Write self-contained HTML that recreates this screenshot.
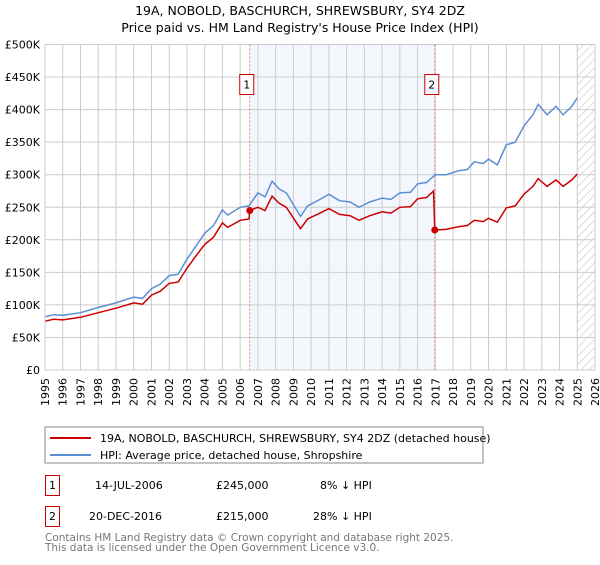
<!DOCTYPE html>
<html><head><meta charset="utf-8"><style>
body{margin:0;background:#fff;font-family:"Liberation Sans","DejaVu Sans",sans-serif}
svg text{font-family:"DejaVu Sans","Liberation Sans",sans-serif}
</style></head><body>
<svg id="c" width="600" height="560" xmlns="http://www.w3.org/2000/svg">
<defs><pattern id="hatch" width="6" height="6" patternUnits="userSpaceOnUse" patternTransform="rotate(45)"><line x1="0" y1="0" x2="0" y2="6" stroke="#bbb" stroke-width="1"/></pattern></defs>
<text x="300" y="15" text-anchor="middle" font-size="12.5">19A, NOBOLD, BASCHURCH, SHREWSBURY, SY4 2DZ</text>
<text x="300" y="32" text-anchor="middle" font-size="12.5">Price paid vs. HM Land Registry's House Price Index (HPI)</text>
<g id="plot"></g>
<rect x="45" y="427" width="438" height="36" fill="#fff" stroke="#888"/>
<line x1="50" y1="438" x2="91" y2="438" stroke="#cc0000" stroke-width="2"/>
<text x="100" y="442" font-size="11">19A, NOBOLD, BASCHURCH, SHREWSBURY, SY4 2DZ (detached house)</text>
<line x1="50" y1="455" x2="91" y2="455" stroke="#5b8fd4" stroke-width="2"/>
<text x="100" y="459" font-size="11">HPI: Average price, detached house, Shropshire</text>
<g>
<rect x="45.5" y="475.5" width="14" height="20" fill="none" stroke="#cc0000"/>
<text x="52.5" y="489" text-anchor="middle" font-size="11">1</text>
<text x="95" y="489" font-size="11">14-JUL-2006</text>
<text x="216" y="489" font-size="11">£245,000</text>
<text x="320" y="489" font-size="11">8% ↓ HPI</text></g>
<g>
<rect x="45.5" y="506.5" width="14" height="20" fill="none" stroke="#cc0000"/>
<text x="52.5" y="520" text-anchor="middle" font-size="11">2</text>
<text x="89" y="520" font-size="11">20-DEC-2016</text>
<text x="216" y="520" font-size="11">£215,000</text>
<text x="313" y="520" font-size="11">28% ↓ HPI</text></g>
<text x="45" y="541" font-size="10.5" fill="#777">Contains HM Land Registry data © Crown copyright and database right 2025.</text>
<text x="45" y="551" font-size="10.5" fill="#777">This data is licensed under the Open Government Licence v3.0.</text>
</svg>
<script>
const hpiDates=[1995,1995.5,1996,1997,1998,1999,2000,2000.5,2001,2001.5,2002,2002.5,2003,2003.5,2004,2004.5,2005,2005.3,2006,2006.5,2007,2007.4,2007.8,2008.2,2008.6,2009.4,2009.8,2010.5,2011,2011.6,2012.2,2012.7,2013.3,2014,2014.5,2015,2015.6,2016,2016.5,2017,2017.6,2018.3,2018.8,2019.2,2019.7,2020,2020.5,2021,2021.5,2022,2022.5,2022.8,2023.3,2023.8,2024.2,2024.7,2025];
const hpiValues=[82,85,84,88,96,103,112,110,125,132,145,147,170,190,210,222,246,238,250,252,272,266,290,278,272,236,252,262,270,260,258,250,258,264,262,272,273,286,288,300,300,306,308,320,317,324,315,346,350,375,392,408,392,405,392,405,418];
const priceDates=[1995,1995.5,1996,1997,1998,1999,2000,2000.5,2001,2001.5,2002,2002.5,2003,2003.5,2004,2004.5,2005,2005.3,2006,2006.5,2006.54,2007,2007.4,2007.8,2008.2,2008.6,2009.4,2009.8,2010.5,2011,2011.6,2012.2,2012.7,2013.3,2014,2014.5,2015,2015.6,2016,2016.5,2016.9,2016.97,2017.6,2018.3,2018.8,2019.2,2019.7,2020,2020.5,2021,2021.5,2022,2022.5,2022.8,2023.3,2023.8,2024.2,2024.7,2025];
const priceValues=[75,78,77,81,88,95,103,101,115,121,133,135,156,175,193,204,226,219,230,232,245,250,245,267,256,250,217,232,241,248,239,237,230,237,243,241,250,251,263,265,275,215,216,220,222,230,228,233,227,249,252,270,282,294,282,292,282,292,301];
const saleDates=[2006.54,2016.97];
const saleValues=[245,215];
const saleLabels=["1","2"];
const yTicks=[0,50,100,150,200,250,300,350,400,450,500];
const yTickLabels=["£0","£50K","£100K","£150K","£200K","£250K","£300K","£350K","£400K","£450K","£500K"];
const xTicks=[];for(let y=1995;y<=2026;y++)xTicks.push(y);

const L=45,R=595,T=44.5,B=370;
const X=t=>L+(t-1995)/(2026-1995)*(R-L);
const Y=v=>B-v/500*(B-T);
const g=document.getElementById('plot');
const NS='http://www.w3.org/2000/svg';
function mk(tag,attrs,parent){const e=document.createElementNS(NS,tag);for(const k in attrs)e.setAttribute(k,attrs[k]);(parent||g).appendChild(e);return e;}
let e;
e=mk('rect',{x:X(saleDates[0]),y:T,width:X(saleDates[1])-X(saleDates[0]),height:B-T,fill:'#eef3fc',opacity:0.7});


e=mk('rect',{x:X(2025),y:T,width:R-X(2025),height:B-T,fill:'url(#hatch)'});


xTicks.forEach(t=>{
 e=mk('line',{x1:X(t),x2:X(t),y1:T,y2:B,stroke:'#ccc','stroke-width':1});
 
 
 e=mk('text',{x:0,y:0,transform:`translate(${X(t)+4},${B+8}) rotate(-90)`,'text-anchor':'end','font-size':11});
 e.textContent=t;
 
 
});
yTicks.forEach((v,i)=>{
 e=mk('line',{x1:L,x2:R,y1:Y(v),y2:Y(v),stroke:'#ccc','stroke-width':1});
 
 
 e=mk('text',{x:L-5,y:Y(v)+4,'text-anchor':'end','font-size':11});
 e.textContent=yTickLabels[i];
 
 
});
saleDates.forEach(d=>{
 e=mk('line',{x1:X(d),x2:X(d),y1:T,y2:B,stroke:'#e06060','stroke-width':0.8,'stroke-dasharray':'2,2'});
 
 
});
const pts=(ds,vs)=>ds.map((d,i)=>X(d).toFixed(1)+','+Y(vs[i]).toFixed(1)).join(' ');
e=mk('polyline',{points:pts(hpiDates,hpiValues),fill:'none',stroke:'#5b8fd4','stroke-width':1.5});


e=mk('polyline',{points:pts(priceDates,priceValues),fill:'none',stroke:'#cc0000','stroke-width':1.5});


saleDates.forEach((d,i)=>{
 e=mk('circle',{cx:X(d),cy:Y(saleValues[i]),r:3.5,fill:'#cc0000'});
 
 
 const bx=X(d)-10;
 e=mk('rect',{x:bx,y:74.5,width:14,height:20,fill:'#fff',stroke:'#cc0000'});
 
 
 e=mk('text',{x:bx+7,y:88.5,'text-anchor':'middle','font-size':11});
 e.textContent=saleLabels[i];
 
 
});
e=mk('line',{x1:L,x2:L,y1:T,y2:B,stroke:'#ccc'});


</script>
</body></html>
